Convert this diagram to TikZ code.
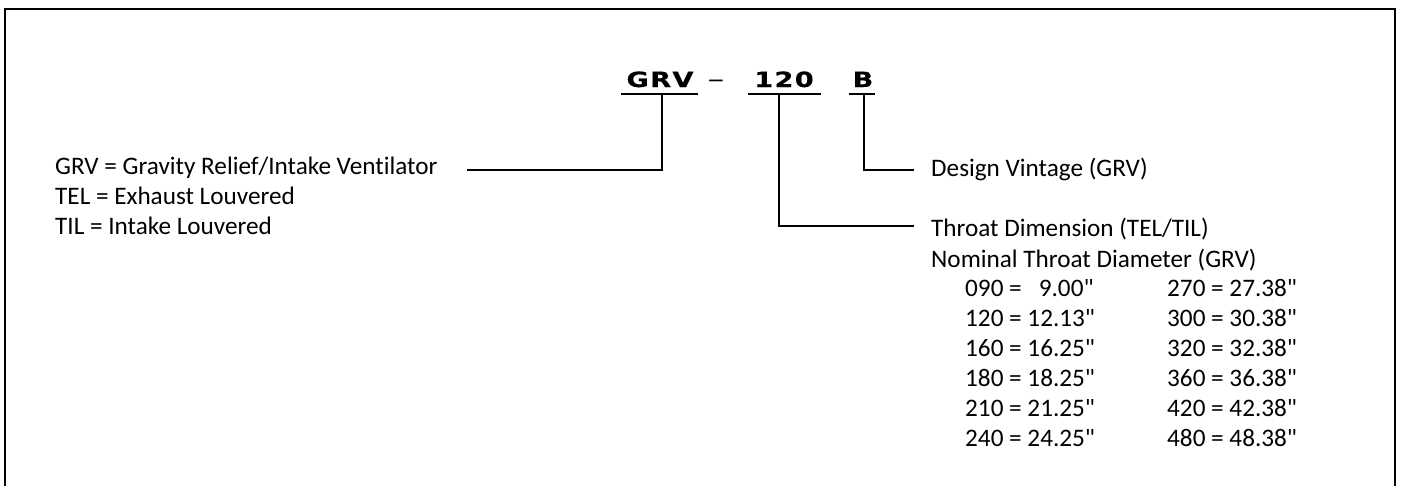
\documentclass[tikz,border=0pt]{standalone}
\usepackage{fontspec}
\setmainfont{Carlito}
\newfontfamily\bodyfont[Ligatures=NoCommon]{Carlito}
\newfontfamily\titlefont[FakeStretch=1.3,LetterSpace=6,FakeBold=0.4]{DejaVu Sans Bold}
\newfontfamily\dashfont[FakeStretch=1.4]{DejaVu Sans}
\begin{document}
\begin{tikzpicture}[x=1pt,y=-1pt,
  lbl/.style={anchor=base west,inner sep=0pt,font=\bodyfont\fontsize{25.2}{30}\selectfont},
  ttl/.style={anchor=base,inner sep=0pt,font=\titlefont\fontsize{21}{22}\selectfont},
  conn/.style={line width=2.4pt},
  frame/.style={line width=2pt}]
\useasboundingbox (0,0) rectangle (1401,485);
\draw[frame] (5,490) -- (5,9) -- (1395,9) -- (1395,490);
% title
\node[ttl] (grv) at (660,87) {GRV};
\node[ttl,font=\dashfont\fontsize{24}{26}\selectfont] (dash) at (716,87) {–};
\node[ttl] (num) at (784,87) {120};
\node[ttl] (vin) at (863,87) {B};
% underlines
\coordinate (u1a) at (621,94); \coordinate (u1b) at (698,94);
\coordinate (u2a) at (748,94); \coordinate (u2b) at (821,94);
\coordinate (u3a) at (849,94); \coordinate (u3b) at (875,94);
\draw[conn] (u1a) -- (u1b);
\draw[conn] (u2a) -- (u2b);
\draw[conn] (u3a) -- (u3b);
% texts
\node[lbl] (l1) at (55,174) {GRV = Gravity Relief/Intake Ventilator};
\node[lbl] (l2) at (55,204) {TEL = Exhaust Louvered};
\node[lbl] (l3) at (55,234) {TIL = Intake Louvered};
\node[lbl] (r1) at (931,176) {Design Vintage (GRV)};
\node[lbl] (r2) at (931,236) {Throat Dimension (TEL/TIL)};
\node[lbl] (r3) at (931,267) {Nominal Throat Diameter (GRV)};
\foreach \i/\a/\b in {0/{090 = \ \ 9.00"}/{270 = 27.38"},1/{120 = 12.13"}/{300 = 30.38"},2/{160 = 16.25"}/{320 = 32.38"},3/{180 = 18.25"}/{360 = 36.38"},4/{210 = 21.25"}/{420 = 42.38"},5/{240 = 24.25"}/{480 = 48.38"}}{
  \node[lbl] (ta\i) at (965,{296+30*\i}) {\a};
  \node[lbl] (tb\i) at (1167,{296+30*\i}) {\b};
}
% connectors
\coordinate (c1) at (467,170); \coordinate (c2) at (914,226); \coordinate (c3) at (914,170);
\draw[conn] (c1) -- (662,170) -- (662,94);
\draw[conn] (c2) -- (779,226) -- (779,94);
\draw[conn] (c3) -- (864,170) -- (864,94);
\end{tikzpicture}
\end{document}
